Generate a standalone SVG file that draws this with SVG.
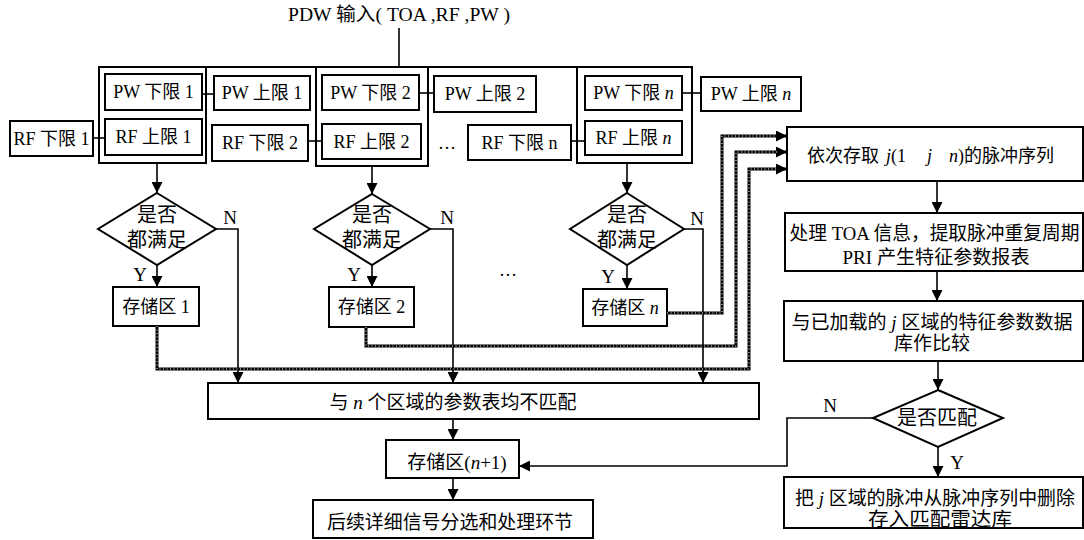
<svg xmlns="http://www.w3.org/2000/svg" width="1084" height="540" viewBox="0 0 1084 540">
<style>
.box{fill:#fff;stroke:#000;stroke-width:2}
.frm{fill:none;stroke:#000;stroke-width:2}
.ln{fill:none;stroke:#000;stroke-width:1.6}
.dsh{fill:none;stroke:#000;stroke-width:3}
.dshw{fill:none;stroke:#fff;stroke-width:1;stroke-dasharray:1 2.5}
text{font-family:"Liberation Serif","Noto Sans CJK SC",serif;font-size:18px;fill:#000}
.c{text-anchor:middle}
.big{font-size:19px}
.dia{font-size:20px}
.it{font-style:italic}
</style>
<defs>
<marker id="ah" viewBox="0 0 10 10" refX="10" refY="5" markerWidth="11" markerHeight="11" markerUnits="userSpaceOnUse" orient="auto">
<path d="M0,0 L10,5 L0,10 z" fill="#000"/>
</marker>
</defs>
<rect width="1084" height="540" fill="#fff"/>

<g id="input"><text x="399" y="21" class="c big" textLength="222" lengthAdjust="spacingAndGlyphs">PDW 输入( TOA ,RF ,PW )</text></g>

<g id="frame1"><rect class="frm" x="99" y="67" width="107" height="96"/></g>
<g id="frame2"><rect class="frm" x="316" y="67" width="112" height="99"/></g>
<g id="framen"><rect class="frm" x="577" y="67" width="115" height="96"/></g>

<g id="pwl1"><rect class="box" x="105" y="74" width="97" height="36"/><text x="153.5" y="98" class="c">PW 下限 1</text></g>
<g id="rfu1"><rect class="box" x="105" y="119" width="97" height="36"/><text x="153.5" y="143" class="c">RF 上限 1</text></g>
<g id="rfl1"><rect class="box" x="10" y="121" width="83" height="35"/><text x="51.5" y="145" class="c">RF 下限 1</text></g>
<g id="pwu1"><rect class="box" x="214" y="76" width="96" height="34"/><text x="262" y="99" class="c">PW 上限 1</text></g>

<g id="pwl2"><rect class="box" x="322" y="75" width="97" height="35"/><text x="370.5" y="99" class="c">PW 下限 2</text></g>
<g id="rfu2"><rect class="box" x="322" y="124" width="99" height="35"/><text x="371.5" y="148" class="c">RF 上限 2</text></g>
<g id="rfl2"><rect class="box" x="212" y="125" width="96" height="36"/><text x="260" y="149" class="c">RF 下限 2</text></g>
<g id="pwu2"><rect class="box" x="434" y="76" width="102" height="36"/><text x="485" y="100" class="c">PW 上限 2</text></g>
<g id="dots1"><text x="447" y="149" class="c">…</text></g>
<g id="rfln"><rect class="box" x="468" y="125" width="103" height="35"/><text x="519.5" y="149" class="c">RF 下限 n</text></g>

<g id="pwln"><rect class="box" x="585" y="76" width="97" height="34"/><text x="633.5" y="99" class="c">PW 下限 <tspan class="it">n</tspan></text></g>
<g id="rfun"><rect class="box" x="585" y="121" width="97" height="34"/><text x="633.5" y="144" class="c">RF 上限 <tspan class="it">n</tspan></text></g>
<g id="pwun"><rect class="box" x="701" y="77" width="100" height="34"/><text x="751" y="100" class="c">PW 上限 <tspan class="it">n</tspan></text></g>

<g id="d1"><polygon class="box" points="157,193 216,229 157,265 98,229"/><text x="157" y="222" class="c dia">是否</text><text x="157" y="247" class="c dia">都满足</text></g>
<g id="d2"><polygon class="box" points="372,194 430,229 372,265 314,229"/><text x="372" y="222" class="c dia">是否</text><text x="372" y="247" class="c dia">都满足</text></g>
<g id="dn"><polygon class="box" points="627,193 684,229 627,265 570,229"/><text x="627" y="222" class="c dia">是否</text><text x="627" y="247" class="c dia">都满足</text></g>
<g id="dots2"><text x="508" y="276" class="c">…</text></g>

<g id="s1"><rect class="box" x="113" y="287" width="86" height="39"/><text x="156" y="313" class="c">存储区 1</text></g>
<g id="s2"><rect class="box" x="329" y="287" width="85" height="40"/><text x="371.5" y="313" class="c">存储区 2</text></g>
<g id="sn"><rect class="box" x="583" y="289" width="84" height="37"/><text x="625" y="314" class="c">存储区 <tspan class="it">n</tspan></text></g>

<g id="nomatch"><rect class="box" x="208" y="383" width="551" height="36"/><text x="453" y="409" class="c big" textLength="247" lengthAdjust="spacingAndGlyphs">与 <tspan class="it">n</tspan> 个区域的参数表均不匹配</text></g>
<g id="sn1"><rect class="box" x="386" y="440" width="133" height="38"/><text x="457" y="469" class="c big">存储区(<tspan class="it">n</tspan>+1)</text></g>
<g id="follow"><rect class="box" x="313" y="500" width="280" height="38"/><text x="450" y="529" class="c big" textLength="246" lengthAdjust="spacingAndGlyphs">后续详细信号分选和处理环节</text></g>

<g id="r1"><rect class="box" x="787" y="127" width="296" height="54"/><text x="807" y="162">依次存取<tspan x="886" class="it">j</tspan>(1<tspan x="927" class="it">j</tspan><tspan x="949" class="it">n</tspan>)的脉冲序列</text></g>
<g id="r2"><rect class="box" x="785" y="213" width="298" height="58"/><text x="934.5" y="240" class="c big" textLength="290" lengthAdjust="spacingAndGlyphs">处理 TOA 信息，提取脉冲重复周期</text><text x="936" y="264" class="c big" textLength="187" lengthAdjust="spacingAndGlyphs">PRI 产生特征参数报表</text></g>
<g id="r3"><rect class="box" x="784" y="301" width="299" height="60"/><text x="932" y="329" class="c big" textLength="281" lengthAdjust="spacingAndGlyphs">与已加载的 <tspan class="it">j</tspan> 区域的特征参数数据</text><text x="932" y="350" class="c big">库作比较</text></g>
<g id="dm"><polygon class="box" points="938,390 1003,418 938,447 873,418"/><text x="937" y="425" class="c dia">是否匹配</text></g>
<g id="r4"><rect class="box" x="784" y="477" width="299" height="51"/><text x="935" y="505" class="c big" textLength="280" lengthAdjust="spacingAndGlyphs">把 <tspan class="it">j</tspan> 区域的脉冲从脉冲序列中删除</text><text x="940" y="526" class="c big" textLength="144" lengthAdjust="spacingAndGlyphs">存入匹配雷达库</text></g>

<g id="connectors">
<line class="ln" x1="399" y1="28" x2="399" y2="67"/>
<line class="frm" x1="99" y1="67" x2="692" y2="67"/>
<line class="ln" x1="93" y1="138" x2="105" y2="138"/>
<line class="ln" x1="202" y1="94" x2="214" y2="94"/>
<line class="ln" x1="308" y1="141" x2="322" y2="141"/>
<line class="ln" x1="419" y1="93" x2="434" y2="93"/>
<line class="ln" x1="571" y1="141" x2="585" y2="141"/>
<line class="ln" x1="682" y1="93" x2="701" y2="93"/>
<line class="ln" x1="157" y1="163" x2="157" y2="193" marker-end="url(#ah)"/>
<line class="ln" x1="372" y1="166" x2="372" y2="194" marker-end="url(#ah)"/>
<line class="ln" x1="627" y1="163" x2="627" y2="193" marker-end="url(#ah)"/>
<line class="ln" x1="157" y1="265" x2="157" y2="287" marker-end="url(#ah)"/>
<line class="ln" x1="372" y1="265" x2="372" y2="287" marker-end="url(#ah)"/>
<line class="ln" x1="627" y1="265" x2="627" y2="289" marker-end="url(#ah)"/>
<text x="140" y="281" class="big c">Y</text>
<text x="354" y="281" class="big c">Y</text>
<text x="608" y="283" class="big c">Y</text>
<polyline class="ln" points="216,229 238,229 238,383" marker-end="url(#ah)"/>
<polyline class="ln" points="430,229 453,229 453,383" marker-end="url(#ah)"/>
<polyline class="ln" points="684,229 703,229 703,383" marker-end="url(#ah)"/>
<text x="230" y="224" class="big c">N</text>
<text x="447" y="224" class="big c">N</text>
<text x="697" y="225" class="big c">N</text>
<polyline class="dsh" points="157,326 157,369 749,369 749,169 787,169" marker-end="url(#ah)"/>
<polyline class="dshw" points="157,326 157,369 749,369 749,169 777,169"/>
<polyline class="dsh" points="366,327 366,346 736,346 736,152 787,152" marker-end="url(#ah)"/>
<polyline class="dshw" points="366,327 366,346 736,346 736,152 777,152"/>
<polyline class="dsh" points="667,313 722,313 722,136 787,136" marker-end="url(#ah)"/>
<polyline class="dshw" points="667,313 722,313 722,136 777,136"/>
<line class="ln" x1="453" y1="419" x2="453" y2="440" marker-end="url(#ah)"/>
<line class="ln" x1="453" y1="478" x2="453" y2="500" marker-end="url(#ah)"/>
<line class="ln" x1="937" y1="181" x2="937" y2="213" marker-end="url(#ah)"/>
<line class="ln" x1="937" y1="271" x2="937" y2="301" marker-end="url(#ah)"/>
<line class="ln" x1="938" y1="361" x2="938" y2="390" marker-end="url(#ah)"/>
<line class="ln" x1="938" y1="447" x2="938" y2="477" marker-end="url(#ah)"/>
<polyline class="ln" points="873,418 787,418 787,466 519,466" marker-end="url(#ah)"/>
<text x="830" y="412" class="big c">N</text>
<text x="957" y="469" class="big c">Y</text>
</g>
</svg>
